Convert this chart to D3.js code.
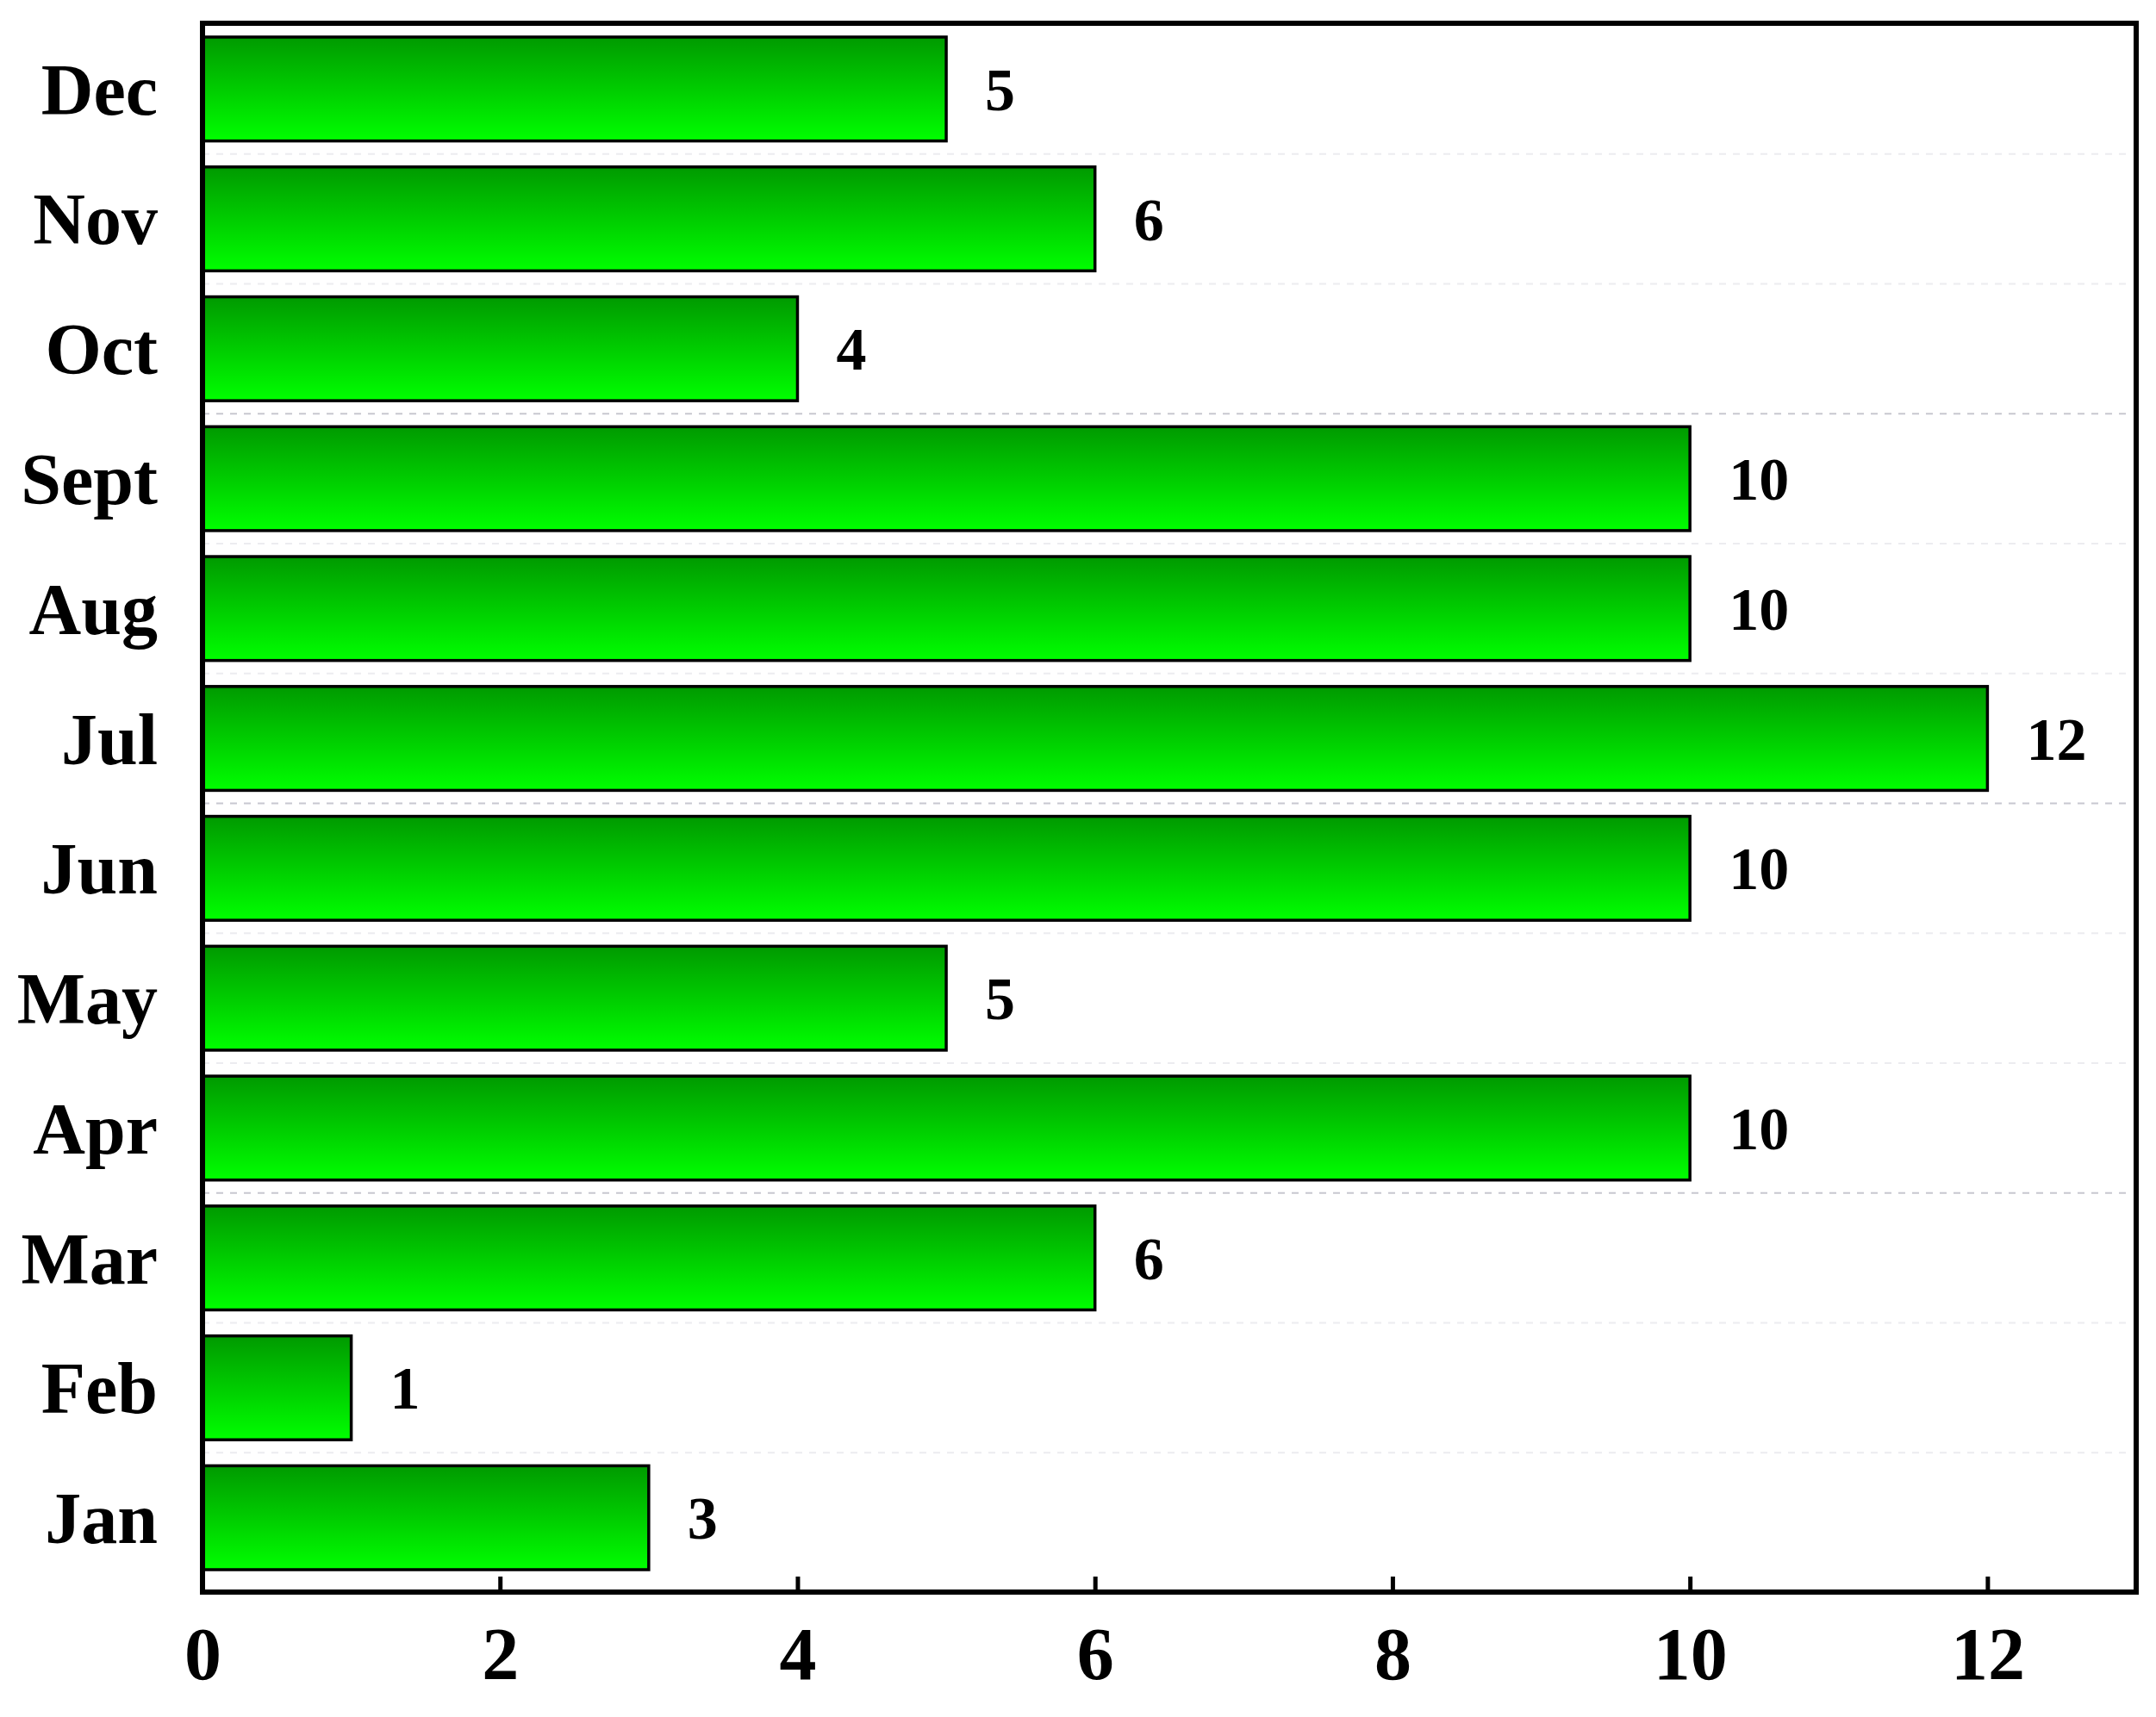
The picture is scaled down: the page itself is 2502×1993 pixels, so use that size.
<!DOCTYPE html>
<html>
<head>
<meta charset="utf-8">
<script src="https://cdn.jsdelivr.net/npm/d3@7"></script>
<style>
  body { margin:0; background:#fff; }
  text { font-family: "Liberation Serif", "Times New Roman", serif; font-weight: bold; }
</style>
</head>
<body>
<svg width="2502" height="1993"></svg>
<script>
const months = ["Dec","Nov","Oct","Sept","Aug","Jul","Jun","May","Apr","Mar","Feb","Jan"];
const counts = [5, 6, 4, 10, 10, 12, 10, 5, 10, 6, 1, 3];
const xTicks = [0, 2, 4, 6, 8, 10, 12];

const svg = d3.select('svg');
const margin = { top:27, right:23, bottom:145, left:235 };
const width = +svg.attr('width');
const height = +svg.attr('height');
const innerWidth = width - margin.left - margin.right;
const innerHeight = height - margin.top - margin.bottom;

// gradient fill for bars
const grad = svg.append('defs').append('linearGradient')
    .attr('id', 'barGrad').attr('x1', 0).attr('y1', 0).attr('x2', 0).attr('y2', 1);
grad.append('stop').attr('offset', '0%').attr('stop-color', '#009a00');
grad.append('stop').attr('offset', '100%').attr('stop-color', '#00ff00');

const g = svg.append('g').attr('transform', `translate(${margin.left},${margin.top})`);

//xScale
const xScale = d3.scaleLinear().domain([0, 13]).range([0, innerWidth]);
//yScale
const yScale = d3.scaleBand().domain(months).range([16, innerHeight - 26]).paddingInner(0.2).paddingOuter(0);

// faint dashed separators between bands
const step = yScale.step();
months.slice(1).forEach((m, i) => {
  const y = yScale(m) - step * yScale.paddingInner() / 2;
  g.append('line')
    .attr('x1', 0).attr('x2', innerWidth - 8)
    .attr('y1', y).attr('y2', y)
    .attr('stroke', (m === 'Sept' || m === 'Jun' || m === 'Mar') ? '#c8c8d0' : '#ececf0')
    .attr('stroke-width', 2)
    .attr('stroke-dasharray', '8,8');
});

// bars
g.selectAll('rect.bar').data(counts)
  .enter().append('rect')
  .attr('class', 'bar')
  .attr('x', 0)
  .attr('y', (d, i) => yScale(months[i]))
  .attr('width', d => xScale(d))
  .attr('height', yScale.bandwidth())
  .attr('fill', 'url(#barGrad)')
  .attr('stroke', '#000')
  .attr('stroke-width', 3.5);

// value labels
g.selectAll('text.val').data(counts)
  .enter().append('text')
  .attr('class', 'val')
  .attr('x', d => xScale(d) + 45)
  .attr('y', (d, i) => yScale(months[i]) + yScale.bandwidth() / 2)
  .attr('dy', '0.35em')
  .attr('font-size', 70)
  .text(d => d);

// category labels
g.selectAll('text.cat').data(months)
  .enter().append('text')
  .attr('class', 'cat')
  .attr('x', -52)
  .attr('y', d => yScale(d) + yScale.bandwidth() / 2)
  .attr('dy', '0.35em')
  .attr('text-anchor', 'end')
  .attr('font-size', 84)
  .text(d => d);

//Axis
const xAxis = d3.axisBottom(xScale).tickValues(xTicks).tickSize(-18).tickPadding(40).tickFormat(d3.format('d'));
const ax = g.append('g').attr('transform', `translate(0,${innerHeight})`).call(xAxis);
ax.select('.domain').remove();
ax.selectAll('line').attr('stroke', '#000').attr('stroke-width', 5);
ax.selectAll('text').attr('font-size', 86).attr('fill', '#000').attr('font-family', '"Liberation Serif", serif');

// frame
g.append('rect')
  .attr('x', 0).attr('y', 0)
  .attr('width', innerWidth).attr('height', innerHeight)
  .attr('fill', 'none').attr('stroke', '#000').attr('stroke-width', 6);
</script>
</body>
</html>
